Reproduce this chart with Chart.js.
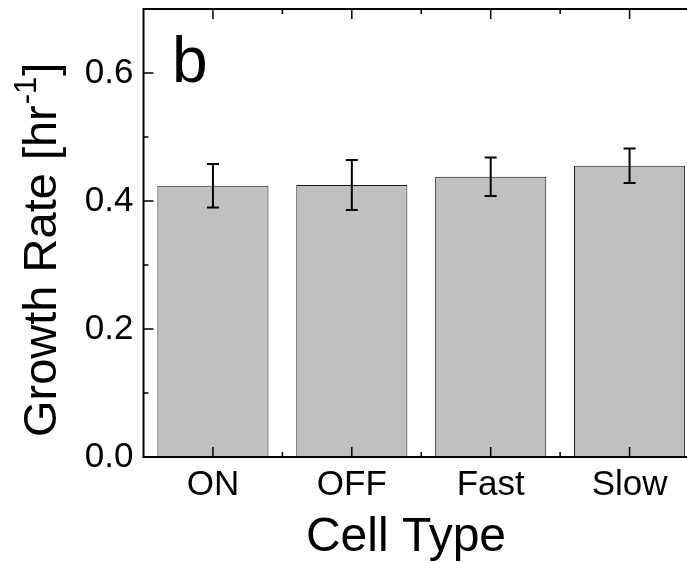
<!DOCTYPE html>
<html>
<head>
<meta charset="utf-8">
<script src="https://cdn.jsdelivr.net/npm/chart.js@4/dist/chart.umd.min.js"></script>
<style>
  html, body { margin: 0; padding: 0; background: #fff; overflow: hidden; }
  #wrap { width: 687px; height: 563px; overflow: hidden; }
</style>
</head>
<body>
<div id="wrap"><canvas id="chart" width="712" height="563"></canvas></div>
<script>
// data
const cellTypes = ['ON', 'OFF', 'Fast', 'Slow'];
const growthRate = [0.424, 0.425, 0.438, 0.455];
const growthErr = [0.034, 0.039, 0.030, 0.027];
const yTicks = [0.0, 0.2, 0.4, 0.6];
const yMinorTicks = [0.1, 0.3, 0.5];

const FONT = '"Liberation Sans", Arial, sans-serif';

// frame, inward ticks, error bars, titles and the panel letter
const decor = {
    id: 'decor',
    afterDatasetsDraw(chart) {
        const ctx = chart.ctx;
        const a = chart.chartArea;
        const x = chart.scales.x;
        const y = chart.scales.y;
        ctx.save();

        // error bars
        ctx.strokeStyle = '#000';
        ctx.lineWidth = 2;
        const bars = chart.getDatasetMeta(0).data;
        bars.forEach((bar, i) => {
            const top = y.getPixelForValue(growthRate[i] + growthErr[i]);
            const bot = y.getPixelForValue(growthRate[i] - growthErr[i]);
            ctx.beginPath();
            ctx.moveTo(bar.x, top); ctx.lineTo(bar.x, bot);
            ctx.moveTo(bar.x - 6, top); ctx.lineTo(bar.x + 6, top);
            ctx.moveTo(bar.x - 6, bot); ctx.lineTo(bar.x + 6, bot);
            ctx.stroke();
        });

        // frame
        ctx.lineWidth = 2;
        ctx.strokeRect(a.left, a.top, a.right - a.left, a.bottom - a.top);

        // ticks
        ctx.lineWidth = 1.5;
        ctx.beginPath();
        yTicks.forEach(v => {
            const py = y.getPixelForValue(v);
            ctx.moveTo(a.left, py); ctx.lineTo(a.left + 10, py);
            ctx.moveTo(a.right, py); ctx.lineTo(a.right - 10, py);
        });
        yMinorTicks.forEach(v => {
            const py = y.getPixelForValue(v);
            ctx.moveTo(a.left, py); ctx.lineTo(a.left + 5, py);
            ctx.moveTo(a.right, py); ctx.lineTo(a.right - 5, py);
        });
        cellTypes.forEach((c, i) => {
            const px = x.getPixelForValue(i);
            ctx.moveTo(px, a.bottom); ctx.lineTo(px, a.bottom - 10);
            ctx.moveTo(px, a.top); ctx.lineTo(px, a.top + 10);
            if (i > 0) {
                const mx = (px + x.getPixelForValue(i - 1)) / 2;
                ctx.moveTo(mx, a.bottom); ctx.lineTo(mx, a.bottom - 5);
                ctx.moveTo(mx, a.top); ctx.lineTo(mx, a.top + 5);
            }
        });
        ctx.stroke();

        ctx.fillStyle = '#000';

        // panel letter
        ctx.font = '64px ' + FONT;
        ctx.textAlign = 'left';
        ctx.textBaseline = 'alphabetic';
        ctx.fillText('b', 172, 82);

        // x title
        ctx.font = '48px ' + FONT;
        ctx.textAlign = 'center';
        ctx.fillText('Cell Type', 406, 551);

        // y title with superscript
        ctx.translate(56, 437);
        ctx.rotate(-Math.PI / 2);
        ctx.textAlign = 'left';
        ctx.font = '47px ' + FONT;
        let s = 'Growth Rate [hr';
        ctx.fillText(s, 0, 0);
        let off = ctx.measureText(s).width;
        ctx.font = '31px ' + FONT;
        ctx.fillText('-1', off + 1, -20);
        off += ctx.measureText('-1').width + 2;
        ctx.font = '47px ' + FONT;
        ctx.fillText(']', off, 0);

        ctx.restore();
    }
};

new Chart(document.getElementById('chart'), {
    type: 'bar',
    data: {
        labels: cellTypes,
        datasets: [{
            data: growthRate,
            backgroundColor: '#c0c0c0',
            borderColor: '#1a1a1a',
            borderWidth: 1,
            categoryPercentage: 0.8,
            barPercentage: 1.0
        }]
    },
    options: {
        responsive: false,
        animation: false,
        layout: { padding: { top: 9, right: 13, left: 0, bottom: 0 } },
        plugins: { legend: { display: false }, tooltip: { enabled: false } },
        scales: {
            x: {
                grid: { display: false, drawTicks: false },
                border: { display: false },
                ticks: { color: '#000', font: { family: FONT, size: 35 }, padding: 7, maxRotation: 0 },
                afterFit(scale) {
                    scale.height = 106;
                    scale.paddingLeft = 0; scale.paddingRight = 0;
                }
            },
            y: {
                min: 0,
                max: 0.7,
                grid: { display: false, drawTicks: false },
                border: { display: false },
                ticks: {
                    color: '#000',
                    font: { family: FONT, size: 35 },
                    padding: 10,
                    callback: v => Number(v).toFixed(1)
                },
                afterBuildTicks(scale) { scale.ticks = yTicks.map(v => ({ value: v })); },
                afterFit(scale) {
                    scale.width = 143.5;
                    scale.paddingTop = 0; scale.paddingBottom = 0;
                }
            }
        }
    },
    plugins: [decor]
});
</script>
</body>
</html>
